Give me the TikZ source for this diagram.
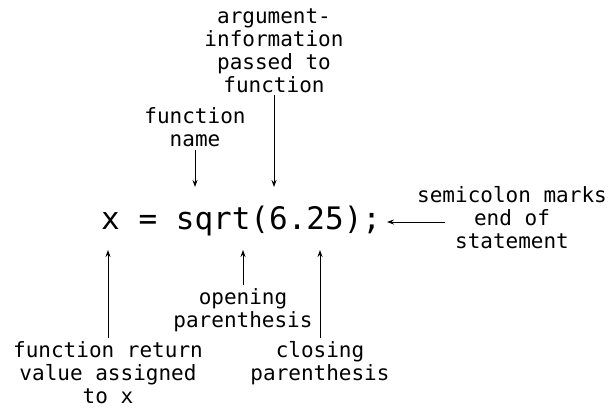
\documentclass[tikz,border=0pt]{standalone}
\usepackage{fontspec}
\setmonofont{DejaVu Sans Mono}
\usetikzlibrary{arrows.meta}
\tikzset{
	labl/.style={align=center,anchor=base,inner sep=3pt,font=\ttfamily\fontsize{21}{23}\selectfont},
	code/.style={anchor=base west,inner sep=0pt,font=\ttfamily\fontsize{31}{36}\selectfont},
	pointer/.style={line width=0.9pt,->},
	>={Stealth[length=7pt,width=5pt]},
	}
\begin{document}
\begin{tikzpicture}[x=1pt,y=-1pt]
\useasboundingbox (0,0) rectangle (610,407);
%ISTRUZIONE
\node[code] (stmt) at (101,229) {x = sqrt(6.25);};
%ETICHETTE
\node[labl] (arg) at (274,92) {argument-\\information\\passed to\\function};
\node[labl] (fname) at (195,146) {function\\name};
\node[labl] (semi) at (512,248) {semicolon marks\\end of\\statement};
\node[labl] (open) at (243,327) {opening\\parenthesis};
\node[labl] (ret) at (108,403) {function return\\value assigned\\to x};
\node[labl] (close) at (320,380) {closing\\parenthesis};
%PUNTE
\coordinate (argtip) at (274,187);
\coordinate (fntip) at (195,187);
\coordinate (semitip) at (387,222);
\coordinate (semistart) at (445,222);
\coordinate (rettip) at (108,250);
\coordinate (opentip) at (243,250);
\coordinate (closetip) at (320,250);
%FRECCE
\draw[pointer] (arg) -- (argtip);
\draw[pointer] (fname) -- (fntip);
\draw[pointer] (semistart) -- (semitip);
\draw[pointer] (ret) -- (rettip);
\draw[pointer] (open) -- (opentip);
\draw[pointer] (close) -- (closetip);
\end{tikzpicture}
\end{document}
